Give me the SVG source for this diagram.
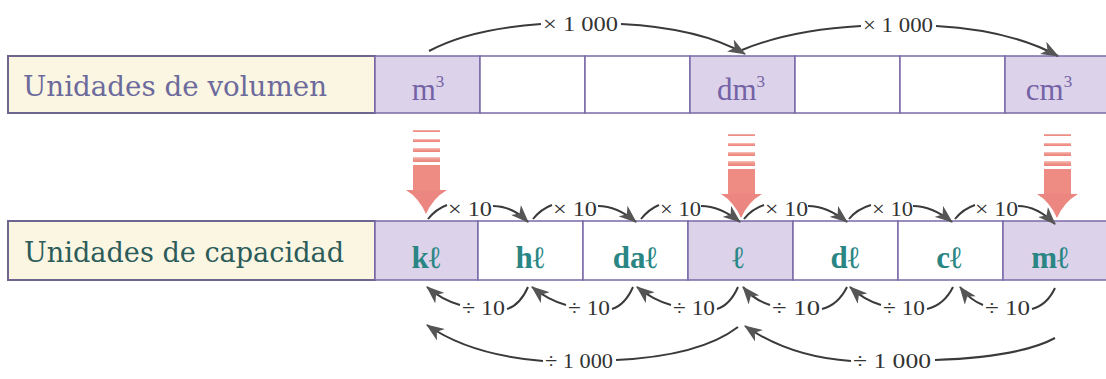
<svg xmlns="http://www.w3.org/2000/svg" width="1106" height="379" viewBox="0 0 1106 379">
<style>
.lbl{fill:#fbf6e2;stroke:#6e6690;stroke-width:2}
.sh{fill:#dcd3ea;stroke:#7a6aa8;stroke-width:1.5}
.wh{fill:#ffffff;stroke:#7a6aa8;stroke-width:1.5}
.ttop{font-family:"DejaVu Serif","Liberation Serif",serif;font-size:27px;fill:#6c6a9c}
.tbot{font-family:"DejaVu Serif","Liberation Serif",serif;font-size:27px;fill:#2c5c5a}
.cv{font-family:"Liberation Serif",serif;font-size:31px;fill:#7462a6;text-anchor:middle}
.cc{font-family:"Liberation Serif",serif;font-size:31px;font-weight:bold;fill:#2a8684;text-anchor:middle}
.sup{font-size:17px}
.op{font-family:"Liberation Serif",serif;font-size:22px;fill:#333}
.ln{fill:none;stroke:#3a3a3a;stroke-width:2}
.la{fill:none;stroke:#3a3a3a;stroke-width:2;marker-end:url(#ah)}
.pk{fill:url(#pg)}
</style>
<defs>
<marker id="ah" markerUnits="userSpaceOnUse" markerWidth="20" markerHeight="14" refX="17" refY="7" orient="auto">
<path d="M0,0 L18,7 L0,14 L5,7 z" fill="#555"/>
</marker>
<linearGradient id="pg" x1="0" y1="0" x2="0" y2="1">
<stop offset="0" stop-color="#f6c4bc"/>
<stop offset="0.4" stop-color="#f09a90"/>
<stop offset="1" stop-color="#ec8078"/>
</linearGradient>
<g id="pink">
<rect x="-13" y="0" width="27" height="2" class="pk"/>
<rect x="-13" y="9" width="27" height="3" class="pk"/>
<rect x="-13" y="18" width="27" height="4" class="pk"/>
<rect x="-13" y="27" width="27" height="5" class="pk"/>
<rect x="-13" y="35" width="27" height="27" fill="#ee8c84"/>
<path d="M-20,60 L21,60 Q7,68 0,84 Q-7,68 -20,60 z" fill="#ec8680"/>
</g>
</defs>
<rect width="1106" height="379" fill="#ffffff"/>

<g id="volumen">
<rect class="lbl" x="8" y="56" width="367" height="57"/>
<text class="ttop" x="23" y="96" textLength="304" lengthAdjust="spacingAndGlyphs">Unidades de volumen</text>
</g>
<g id="m3"><rect class="sh" x="375" y="56" width="105" height="57"/><text class="cv" x="428" y="100">m<tspan class="sup" dy="-13">3</tspan></text></g>
<g id="v2"><rect class="wh" x="480" y="56" width="105" height="57"/></g>
<g id="v3"><rect class="wh" x="585" y="56" width="105" height="57"/></g>
<g id="dm3"><rect class="sh" x="690" y="56" width="105" height="57"/><text class="cv" x="741" y="100">dm<tspan class="sup" dy="-13">3</tspan></text></g>
<g id="v5"><rect class="wh" x="795" y="56" width="105" height="57"/></g>
<g id="v6"><rect class="wh" x="900" y="56" width="105" height="57"/></g>
<g id="cm3"><rect class="sh" x="1005" y="56" width="105" height="57"/><text class="cv" x="1049" y="100">cm<tspan class="sup" dy="-13">3</tspan></text></g>

<g id="capacidad">
<rect class="lbl" x="8" y="221" width="367" height="59"/>
<text class="tbot" x="24" y="262" textLength="320" lengthAdjust="spacingAndGlyphs">Unidades de capacidad</text>
</g>
<g id="kl"><rect class="sh" x="375" y="221" width="103" height="59"/><text class="cc" x="426" y="268">kℓ</text></g>
<g id="hl"><rect class="wh" x="478" y="221" width="105" height="59"/><text class="cc" x="530" y="268">hℓ</text></g>
<g id="dal"><rect class="wh" x="583" y="221" width="105" height="59"/><text class="cc" x="635" y="268">daℓ</text></g>
<g id="l"><rect class="sh" x="688" y="221" width="105" height="59"/><text class="cc" x="738" y="268">ℓ</text></g>
<g id="dl"><rect class="wh" x="793" y="221" width="105" height="59"/><text class="cc" x="845" y="268">dℓ</text></g>
<g id="cl"><rect class="wh" x="898" y="221" width="105" height="59"/><text class="cc" x="949" y="268">cℓ</text></g>
<g id="ml"><rect class="sh" x="1003" y="221" width="107" height="59"/><text class="cc" x="1050" y="268">mℓ</text></g>

<g id="pink-arrows">
<use href="#pink" x="426" y="130"/>
<use href="#pink" x="741" y="134"/>
<use href="#pink" x="1057" y="134"/>
</g>

<g id="connectors">
<path class="ln" d="M429,51 Q470,29 541,24"/>
<path class="la" d="M621,24 Q700,28 745,54"/>
<path class="ln" d="M742,50 Q790,30 861,26"/>
<path class="la" d="M936,26 Q1010,30 1058,56"/>

<path class="ln" d="M428,219 Q436,209 447,205"/>
<path class="la" d="M493,206 Q512,206 528,222"/>
<path class="ln" d="M533,219 Q541,209 552,205"/>
<path class="la" d="M598,206 Q617,206 636,222"/>
<path class="ln" d="M641,219 Q649,209 659,205"/>
<path class="la" d="M701,206 Q720,206 740,222"/>
<path class="ln" d="M744,219 Q752,209 764,205"/>
<path class="la" d="M808,206 Q827,206 847,222"/>
<path class="ln" d="M849,219 Q857,209 871,205"/>
<path class="la" d="M913,206 Q932,206 952,222"/>
<path class="ln" d="M955,219 Q963,209 975,205"/>
<path class="la" d="M1018,206 Q1037,206 1055,224"/>

<path class="la" d="M460,305 Q442,300 427,287"/>
<path class="ln" d="M507,309 Q520,305 528,287"/>
<path class="la" d="M566,305 Q548,300 532,287"/>
<path class="ln" d="M612,309 Q625,305 633,287"/>
<path class="la" d="M671,305 Q653,300 637,287"/>
<path class="ln" d="M717,309 Q730,305 738,287"/>
<path class="la" d="M770,305 Q754,300 743,287"/>
<path class="ln" d="M822,309 Q838,305 847,287"/>
<path class="la" d="M881,305 Q864,300 850,287"/>
<path class="ln" d="M927,309 Q944,305 953,287"/>
<path class="la" d="M983,305 Q970,300 960,287"/>
<path class="ln" d="M1032,309 Q1047,305 1055,288"/>

<path class="la" d="M543,361 Q470,355 427,325"/>
<path class="ln" d="M616,360 Q700,356 738,327"/>
<path class="la" d="M851,361 Q790,357 745,326"/>
<path class="ln" d="M935,360 Q1020,357 1055,338"/>
</g>

<g id="op-labels">
<text class="op" x="543" y="31" textLength="75" lengthAdjust="spacingAndGlyphs">× 1 000</text>
<text class="op" x="863" y="32" textLength="70" lengthAdjust="spacingAndGlyphs">× 1 000</text>
<text class="op" x="448" y="216" textLength="44" lengthAdjust="spacingAndGlyphs">× 10</text>
<text class="op" x="553" y="216" textLength="44" lengthAdjust="spacingAndGlyphs">× 10</text>
<text class="op" x="660" y="216" textLength="41" lengthAdjust="spacingAndGlyphs">× 10</text>
<text class="op" x="765" y="216" textLength="43" lengthAdjust="spacingAndGlyphs">× 10</text>
<text class="op" x="872" y="216" textLength="41" lengthAdjust="spacingAndGlyphs">× 10</text>
<text class="op" x="975" y="216" textLength="43" lengthAdjust="spacingAndGlyphs">× 10</text>
<text class="op" x="462" y="315" textLength="43" lengthAdjust="spacingAndGlyphs">÷ 10</text>
<text class="op" x="568" y="315" textLength="42" lengthAdjust="spacingAndGlyphs">÷ 10</text>
<text class="op" x="673" y="315" textLength="42" lengthAdjust="spacingAndGlyphs">÷ 10</text>
<text class="op" x="772" y="315" textLength="48" lengthAdjust="spacingAndGlyphs">÷ 10</text>
<text class="op" x="883" y="315" textLength="42" lengthAdjust="spacingAndGlyphs">÷ 10</text>
<text class="op" x="985" y="315" textLength="45" lengthAdjust="spacingAndGlyphs">÷ 10</text>
<text class="op" x="545" y="368" textLength="68" lengthAdjust="spacingAndGlyphs">÷ 1 000</text>
<text class="op" x="853" y="368" textLength="78" lengthAdjust="spacingAndGlyphs">÷ 1 000</text>
</g>
</svg>
